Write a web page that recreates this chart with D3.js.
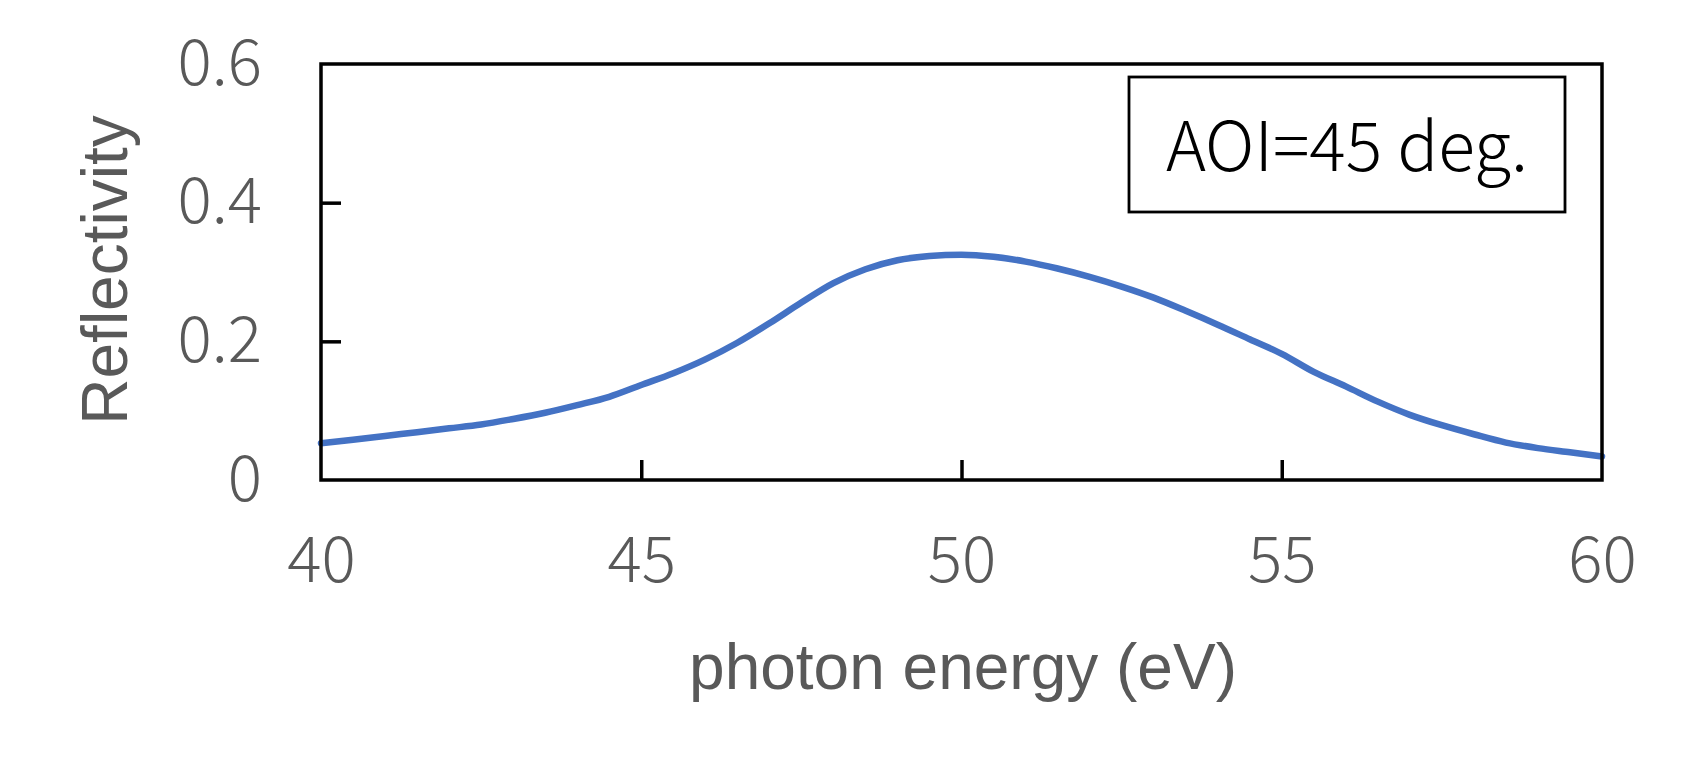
<!DOCTYPE html>
<html>
<head>
<meta charset="utf-8">
<script src="https://cdn.jsdelivr.net/npm/d3@7"></script>
<style>
  body { margin: 0; background: #fff; }
</style>
</head>
<body>
<div id="chart"></div>
<script>
// photon energy (eV)
var energy = [40, 40.5, 41, 41.5, 42, 42.5, 43, 43.5, 44, 44.5,
              45, 45.5, 46, 46.5, 47, 47.5, 48, 48.5, 49, 49.5,
              50, 50.5, 51, 51.5, 52, 52.5, 53, 53.5, 54, 54.5,
              55, 55.5, 56, 56.5, 57, 57.5, 58, 58.5, 59, 59.5, 60];
// reflectivity at AOI = 45 deg.
var reflectivity = [0.053, 0.058, 0.0635, 0.069, 0.0745, 0.080, 0.088, 0.097, 0.108, 0.120,
                    0.137, 0.154, 0.174, 0.198, 0.226, 0.256, 0.284, 0.304, 0.317, 0.323,
                    0.325, 0.322, 0.315, 0.305, 0.293, 0.279, 0.263, 0.244, 0.224, 0.203,
                    0.182, 0.156, 0.135, 0.113, 0.094, 0.079, 0.066, 0.054, 0.046, 0.040, 0.034];
var xTicks = [40, 45, 50, 55, 60];
var yTicks = [0, 0.2, 0.4, 0.6];
var legendText = "AOI=45 deg.";

var W = 1689, H = 780;
var margin = {top: 64, right: 87, bottom: 300, left: 321},
    width = W - margin.left - margin.right,
    height = H - margin.top - margin.bottom;

var svg = d3.select("#chart")
  .append("svg")
  .attr("width", W)
  .attr("height", H);

var g = svg.append("g")
  .attr("transform", "translate(" + margin.left + "," + margin.top + ")");

var x = d3.scaleLinear().domain([40, 60]).range([0, width]);
var y = d3.scaleLinear().domain([0, 0.6]).range([height, 0]);

var tickFont = "'Noto Sans CJK JP', 'Noto Sans', sans-serif";
var grey = "#595959";

// x axis, ticks pointing into the plot
var xAxis = g.append("g")
  .attr("transform", "translate(0," + height + ")")
  .call(d3.axisBottom(x).tickValues(xTicks).tickSize(-20).tickFormat(d3.format("d")));
xAxis.select(".domain").remove();
xAxis.selectAll("line")
  .attr("stroke", "#000")
  .attr("stroke-width", 3.5)
  .filter(function(d) { return d === 40 || d === 60; }).remove();
xAxis.selectAll("text")
  .attr("y", 102)
  .attr("dy", null)
  .attr("fill", grey)
  .style("font-family", tickFont)
  .style("font-weight", 300)
  .style("font-size", "64px");

// y axis
var yAxis = g.append("g")
  .call(d3.axisLeft(y).tickValues(yTicks).tickSize(-20).tickFormat(function(d) { return d === 0 ? "0" : d3.format(".1f")(d); }));
yAxis.select(".domain").remove();
yAxis.selectAll("line")
  .attr("stroke", "#000")
  .attr("stroke-width", 3.5)
  .filter(function(d) { return d === 0 || d === 0.6; }).remove();
yAxis.selectAll("text")
  .attr("x", -59)
  .attr("dy", "20px")
  .attr("fill", grey)
  .style("font-family", tickFont)
  .style("font-weight", 300)
  .style("font-size", "64px");

// data line
var line = d3.line()
  .x(function(d, i) { return x(energy[i]); })
  .y(function(d) { return y(d); })
  .curve(d3.curveMonotoneX);

g.append("path")
  .datum(reflectivity)
  .attr("d", line)
  .attr("fill", "none")
  .attr("stroke", "#4472C4")
  .attr("stroke-width", 6.5)
  .attr("stroke-linecap", "round")
  .attr("stroke-linejoin", "round");

// plot frame
g.append("rect")
  .attr("width", width)
  .attr("height", height)
  .attr("fill", "none")
  .attr("stroke", "#000")
  .attr("stroke-width", 3.5);

// label box
var box = g.append("g")
  .attr("transform", "translate(" + (1129 - margin.left) + "," + (77 - margin.top) + ")");
box.append("rect")
  .attr("width", 436)
  .attr("height", 135)
  .attr("fill", "#fff")
  .attr("stroke", "#000")
  .attr("stroke-width", 2.8);
box.append("text")
  .attr("x", 218)
  .attr("y", 94)
  .attr("text-anchor", "middle")
  .attr("fill", "#000")
  .style("font-family", tickFont)
  .style("font-weight", 300)
  .style("font-size", "68px")
  .text(legendText);

// axis titles
svg.append("text")
  .attr("x", 963)
  .attr("y", 689)
  .attr("text-anchor", "middle")
  .attr("fill", grey)
  .style("font-family", "'Liberation Sans', Arial, sans-serif")
  .style("font-size", "64px")
  .text("photon energy (eV)");

svg.append("text")
  .attr("transform", "translate(127,270) rotate(-90)")
  .attr("text-anchor", "middle")
  .attr("fill", grey)
  .style("font-family", "'Liberation Sans', Arial, sans-serif")
  .style("font-size", "64px")
  .text("Reflectivity");
</script>
</body>
</html>
